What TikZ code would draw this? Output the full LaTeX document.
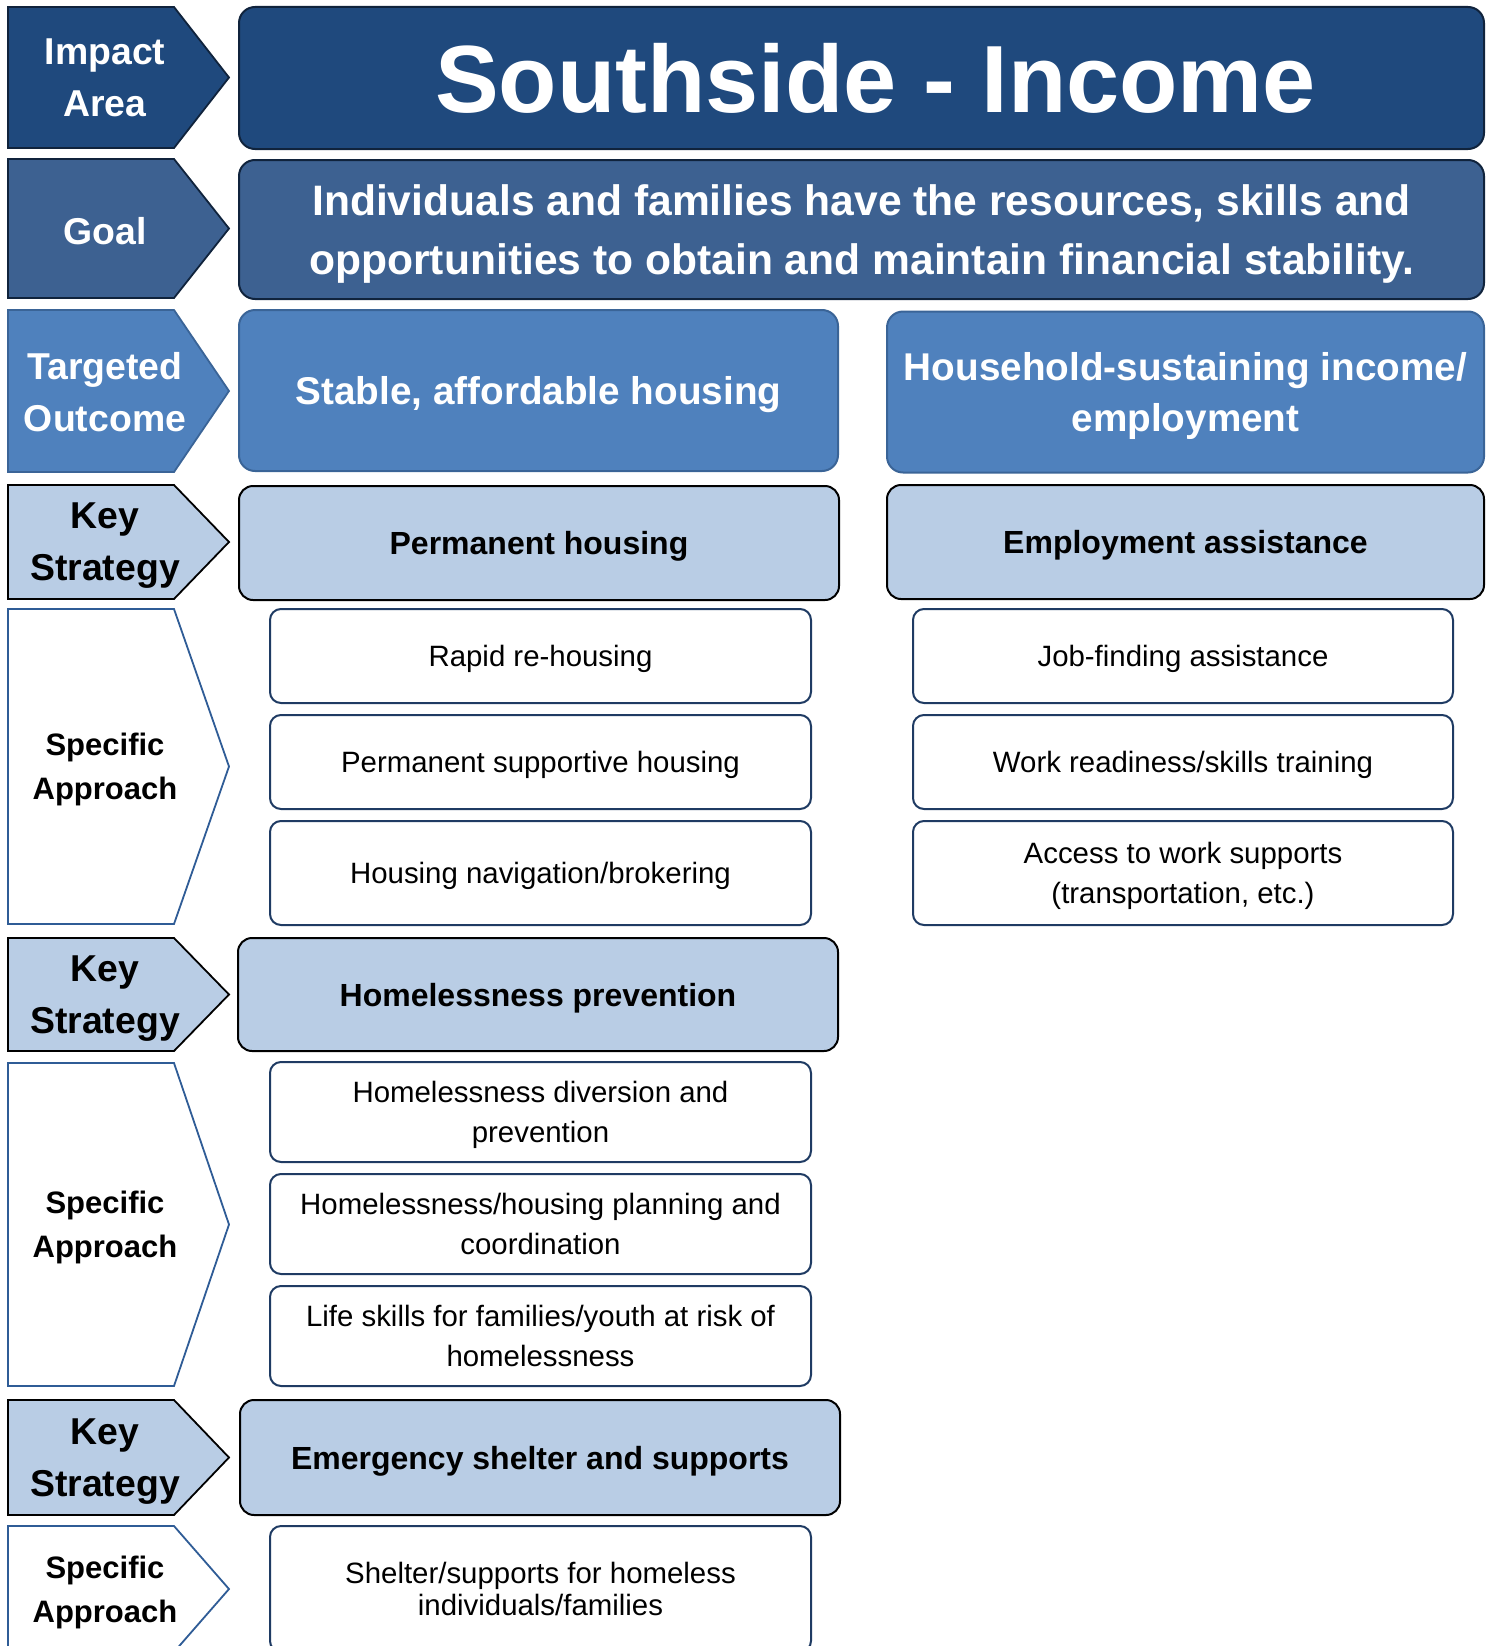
\documentclass[tikz,border=0pt]{standalone}
\usepackage{fontspec}
\setmainfont{Liberation Sans}
\usetikzlibrary{positioning}
\definecolor{impactblue}{HTML}{1F497D}
\definecolor{goalblue}{HTML}{3D6191}
\definecolor{outblue}{HTML}{4F81BD}
\definecolor{keyblue}{HTML}{B9CDE5}
\definecolor{darkedge}{HTML}{10233C}
\definecolor{outedge}{HTML}{3A6497}
\definecolor{specedge}{HTML}{2F5C96}
\definecolor{subedge}{HTML}{1F3B63}

\begin{document}
\begin{tikzpicture}
[x=1pt,y=-1pt,line join=miter,%
  tag/.style={line width=1.8pt},%
  tagtext/.style={font=\bfseries\fontsize{37.4}{52}\selectfont,align=center,inner sep=0pt,text depth=0pt},%
  spectext/.style={font=\bfseries\fontsize{31}{44}\selectfont,align=center,inner sep=0pt,text depth=0pt},%
  bigbox/.style={draw,line width=2pt,rounded corners=16pt,align=center,inner sep=0pt,text=white,text depth=0pt},%
  keybox/.style={draw=black,fill=keyblue,line width=2pt,rounded corners=14pt,inner sep=0pt,text depth=0pt,%
    font=\bfseries\fontsize{32}{40}\selectfont,minimum height=114pt},%
  subbox/.style={draw=subedge,fill=white,line width=2pt,rounded corners=11pt,inner sep=0pt,text depth=0pt,%
    font=\fontsize{29.4}{40}\selectfont,align=center,minimum width=541pt,minimum height=100pt}]
\useasboundingbox (0,0) rectangle (1494,1646);
\clip (0,0) rectangle (1494,1646);

\draw[tag,fill=impactblue,draw=darkedge] (8,7) -- (174,7) -- (229,77.5) -- (174,148) -- (8,148) -- cycle;
\node[tagtext,text=white] (impact) at (105,78) {Impact\\Area};
\draw[tag,fill=goalblue,draw=darkedge] (8,159) -- (174,159) -- (229,228.5) -- (174,298) -- (8,298) -- cycle;
\node[tagtext,text=white] (goaltag) at (105,230.5) {Goal};
\draw[tag,fill=outblue,draw=outedge] (8,310) -- (174,310) -- (229,391) -- (174,472) -- (8,472) -- cycle;
\node[tagtext,text=white] (outtag) at (105,392) {Targeted\\Outcome};
\draw[tag,fill=keyblue,draw=black] (8,485) -- (174,485) -- (229,542) -- (174,599) -- (8,599) -- cycle;
\node[tagtext] (keytag1) at (105,542) {Key\\Strategy};
\draw[tag,fill=white,draw=specedge] (8,609) -- (174,609) -- (229,766.5) -- (174,924) -- (8,924) -- cycle;
\node[spectext] (spectag1) at (105,766.5) {Specific\\Approach};
\draw[tag,fill=keyblue,draw=black] (8,938) -- (174,938) -- (229,994.5) -- (174,1051) -- (8,1051) -- cycle;
\node[tagtext] (keytag2) at (105,994.5) {Key\\Strategy};
\draw[tag,fill=white,draw=specedge] (8,1063) -- (174,1063) -- (229,1224.5) -- (174,1386) -- (8,1386) -- cycle;
\node[spectext] (spectag2) at (105,1224.5) {Specific\\Approach};
\draw[tag,fill=keyblue,draw=black] (8,1400) -- (174,1400) -- (229,1457.5) -- (174,1515) -- (8,1515) -- cycle;
\node[tagtext] (keytag3) at (105,1457.5) {Key\\Strategy};
\draw[tag,fill=white,draw=specedge] (8,1526) -- (174,1526) -- (229,1589) -- (174,1652) -- (8,1652) -- cycle;
\node[spectext] (spectag3) at (105,1589) {Specific\\Approach};

\node[bigbox,fill=impactblue,draw=darkedge,minimum width=1245pt,minimum height=142pt,%
  font=\bfseries\fontsize{95.5}{100}\selectfont] (title) at (861.5,78) {\hspace*{28pt}Southside - Income};
\node[bigbox,fill=goalblue,draw=darkedge,minimum width=1245pt,minimum height=139pt,%
  font=\bfseries\fontsize{42.6}{59}\selectfont] (goal) at (861.5,229.5)
  {Individuals and families have the resources, skills and\\opportunities to obtain and maintain financial stability.};
\node[bigbox,fill=outblue,draw=outedge,minimum width=599pt,minimum height=161pt,%
  font=\bfseries\fontsize{38.7}{51}\selectfont] (housing) at (538.5,390.5) {Stable, affordable housing};
\node[bigbox,fill=outblue,draw=outedge,minimum width=597pt,minimum height=161pt,%
  font=\bfseries\fontsize{38.7}{51}\selectfont] (income) at (1185.5,392) {Household-sustaining income/\\employment};

\node[keybox,minimum width=600pt] (permanent) at (539,543) {Permanent housing};
\node[keybox,minimum width=597pt] (employ) at (1185.5,542) {Employment assistance};
\node[keybox,minimum width=600pt,minimum height=113pt] (prevent) at (538,994.5) {Homelessness prevention};
\node[keybox,minimum width=600pt,minimum height=115pt] (shelter) at (540,1457.5) {Emergency shelter and supports};

\node[subbox,minimum height=94pt] (rapid) at (540.5,656) {Rapid re-housing};
\node[subbox,minimum height=94pt,below=10pt of rapid] (supportive) {Permanent supportive housing};
\node[subbox,minimum height=104pt,below=10pt of supportive] (navigation) {Housing navigation/brokering};
\node[subbox,minimum width=540pt,minimum height=94pt] (jobfind) at (1183,656) {Job-finding assistance};
\node[subbox,minimum width=540pt,minimum height=94pt,below=10pt of jobfind] (readiness) {Work readiness/skills training};
\node[subbox,minimum width=540pt,minimum height=104pt,below=10pt of readiness] (worksupp) {Access to work supports\\(transportation, etc.)};

\node[subbox] (diversion) at (540.5,1112) {Homelessness diversion and\\prevention};
\node[subbox,below=10pt of diversion] (planning) {Homelessness/housing planning and\\coordination};
\node[subbox,below=10pt of planning] (lifeskills) {Life skills for families/youth at risk of\\homelessness};
\node[subbox,minimum height=126pt,font=\fontsize{29.4}{32}\selectfont] (homeless) at (540.5,1589)
  {Shelter/supports for homeless\\individuals/families};
\end{tikzpicture}
\end{document}
